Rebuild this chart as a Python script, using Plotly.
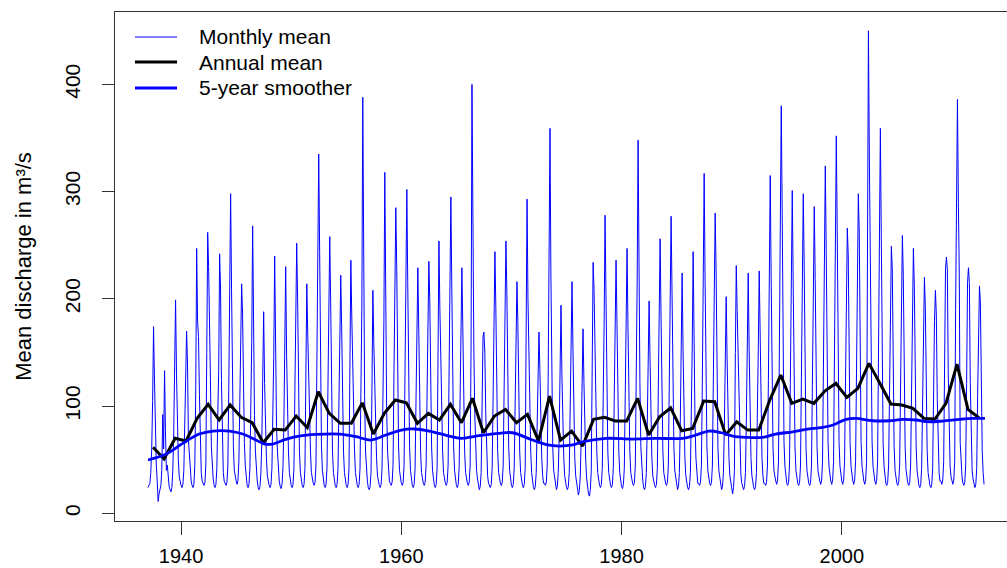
import plotly.graph_objects as go

# ---------------- data ----------------
start_year = 1937
monthly_discharge = [
    24, 26, 28, 38, 60, 105, 174, 125, 72, 45, 30, 11,      # 1937
    18, 22, 26, 40, 92, 60, 133, 76, 40, 45, 30, 25,        # 1938
    22, 20, 24, 40, 75, 143, 199, 130, 74, 50, 34, 28,      # 1939
    26, 24, 27, 40, 70, 125, 170, 140, 69, 52, 36, 30,      # 1940
    26, 24, 27, 45, 115, 247, 179, 165, 111, 55, 38, 30,    # 1941
    28, 26, 29, 45, 150, 262, 230, 190, 125, 62, 40, 32,    # 1942
    26, 24, 27, 42, 90, 133, 242, 210, 124, 58, 38, 30,     # 1943
    28, 26, 29, 45, 117, 209, 298, 209, 117, 62, 40, 32,    # 1944
    30, 27, 31, 48, 104, 186, 214, 186, 104, 66, 44, 34,    # 1945
    26, 24, 27, 42, 90, 160, 268, 160, 91, 58, 38, 30,      # 1946
    24, 22, 25, 38, 68, 121, 188, 121, 68, 52, 35, 28,      # 1947
    26, 24, 27, 42, 82, 146, 240, 146, 81, 58, 38, 30,      # 1948
    25, 23, 27, 42, 82, 146, 230, 146, 82, 58, 38, 31,      # 1949
    26, 24, 27, 42, 100, 177, 252, 200, 114, 58, 38, 30,    # 1950
    26, 24, 27, 42, 120, 214, 168, 131, 80, 58, 38, 30,     # 1951
    28, 26, 29, 45, 137, 244, 335, 244, 138, 62, 40, 32,    # 1952
    26, 24, 27, 42, 110, 197, 258, 197, 111, 58, 38, 30,    # 1953
    26, 24, 27, 42, 97, 173, 222, 173, 97, 58, 38, 30,      # 1954
    26, 24, 27, 42, 131, 236, 184, 132, 79, 58, 38, 30,     # 1955
    26, 24, 27, 42, 108, 193, 388, 193, 109, 58, 38, 30,    # 1956
    24, 22, 25, 38, 114, 208, 159, 114, 68, 52, 35, 28,     # 1957
    26, 24, 27, 42, 100, 178, 318, 178, 99, 58, 38, 30,     # 1958
    28, 26, 29, 45, 130, 230, 285, 230, 130, 62, 40, 32,    # 1959
    28, 26, 29, 45, 121, 215, 302, 215, 121, 62, 40, 32,    # 1960
    26, 24, 27, 42, 96, 171, 229, 171, 95, 58, 38, 30,      # 1961
    28, 26, 29, 45, 112, 199, 235, 199, 111, 62, 40, 32,    # 1962
    26, 24, 27, 42, 136, 254, 191, 136, 82, 58, 38, 30,     # 1963
    28, 26, 29, 45, 119, 212, 295, 212, 119, 62, 40, 32,    # 1964
    26, 24, 27, 42, 97, 173, 229, 173, 97, 58, 38, 30,      # 1965
    28, 26, 29, 45, 156, 400, 218, 156, 94, 62, 40, 32,     # 1966
    24, 22, 25, 38, 100, 165, 169, 150, 93, 52, 35, 28,     # 1967
    26, 24, 27, 42, 108, 192, 244, 192, 107, 58, 38, 30,    # 1968
    28, 26, 29, 45, 116, 207, 254, 207, 117, 62, 40, 32,    # 1969
    26, 24, 27, 42, 100, 177, 216, 177, 99, 58, 38, 30,     # 1970
    26, 24, 27, 42, 142, 293, 200, 143, 85, 58, 38, 30,     # 1971
    24, 22, 25, 38, 75, 133, 169, 134, 75, 52, 35, 28,      # 1972
    28, 26, 29, 45, 124, 221, 359, 221, 125, 62, 40, 32,    # 1973
    24, 22, 25, 38, 72, 129, 194, 129, 72, 52, 35, 28,      # 1974
    24, 22, 25, 38, 86, 154, 216, 154, 86, 52, 35, 28,      # 1975
    20, 17, 21, 35, 69, 123, 172, 122, 69, 48, 32, 24,      # 1976
    18, 16, 22, 40, 149, 234, 208, 149, 89, 58, 38, 30,     # 1977
    26, 24, 27, 42, 99, 176, 278, 177, 99, 58, 38, 30,      # 1978
    26, 24, 27, 42, 99, 176, 236, 177, 99, 58, 38, 30,      # 1979
    25, 23, 27, 42, 97, 173, 247, 173, 97, 58, 38, 32,      # 1980
    28, 26, 29, 45, 122, 216, 348, 216, 122, 62, 40, 32,    # 1981
    24, 22, 25, 38, 82, 145, 198, 145, 82, 52, 35, 28,      # 1982
    26, 24, 27, 42, 104, 185, 256, 185, 105, 58, 38, 30,    # 1983
    28, 26, 29, 45, 116, 205, 277, 205, 116, 62, 40, 32,    # 1984
    24, 22, 25, 38, 86, 152, 224, 152, 86, 52, 35, 28,      # 1985
    24, 22, 25, 38, 87, 154, 244, 154, 87, 52, 35, 28,      # 1986
    28, 26, 29, 45, 122, 216, 317, 217, 122, 62, 40, 32,    # 1987
    28, 26, 29, 45, 127, 226, 280, 226, 127, 62, 40, 32,    # 1988
    24, 22, 25, 38, 81, 144, 202, 144, 81, 52, 35, 28,      # 1989
    20, 18, 24, 40, 150, 231, 188, 145, 90, 55, 36, 28,     # 1990
    24, 22, 25, 38, 87, 155, 224, 154, 87, 52, 35, 28,      # 1991
    24, 22, 25, 38, 87, 154, 226, 153, 87, 52, 35, 28,      # 1992
    28, 26, 29, 45, 124, 221, 315, 221, 124, 62, 40, 32,    # 1993
    30, 27, 31, 48, 160, 284, 380, 284, 159, 66, 44, 34,    # 1994
    28, 26, 29, 45, 120, 213, 301, 214, 120, 62, 40, 32,    # 1995
    28, 26, 29, 45, 129, 230, 298, 230, 129, 62, 40, 32,    # 1996
    28, 26, 29, 45, 123, 218, 286, 218, 123, 62, 40, 32,    # 1997
    30, 27, 31, 48, 138, 244, 324, 244, 138, 66, 44, 34,    # 1998
    30, 27, 31, 48, 148, 263, 352, 263, 148, 66, 44, 34,    # 1999
    30, 27, 31, 48, 135, 240, 266, 240, 136, 66, 44, 34,    # 2000
    30, 27, 31, 48, 148, 262, 298, 262, 148, 66, 44, 34,    # 2001
    30, 27, 31, 48, 237, 450, 332, 237, 142, 66, 44, 34,    # 2002
    30, 27, 31, 48, 147, 261, 359, 260, 147, 66, 44, 34,    # 2003
    28, 26, 29, 45, 128, 228, 249, 228, 128, 62, 40, 32,    # 2004
    28, 26, 29, 45, 124, 221, 259, 221, 124, 62, 40, 32,    # 2005
    28, 26, 29, 45, 120, 213, 247, 213, 120, 62, 40, 32,    # 2006
    26, 24, 27, 42, 107, 191, 220, 192, 107, 58, 38, 30,    # 2007
    26, 24, 27, 42, 130, 180, 208, 185, 107, 58, 38, 30,    # 2008
    30, 27, 31, 48, 128, 228, 239, 227, 128, 66, 44, 34,    # 2009
    30, 27, 31, 48, 190, 300, 386, 290, 223, 66, 44, 34,    # 2010
    28, 26, 29, 45, 121, 215, 229, 215, 121, 62, 40, 32,    # 2011
    26, 24, 27, 42, 110, 196, 212, 196, 110, 58, 38, 27,    # 2012
]

annual_years = list(range(1937, 2013))
annual_mean = [
    61.5, 50.6, 69.9, 67.4, 88.5, 101.6, 87.0, 101.0, 89.5, 84.5,      # 1937-1946
    65.8, 78.3, 77.6, 90.7, 79.8, 113.3, 93.2, 83.9, 83.9, 103.0,      # 1947-1956
    73.9, 93.2, 105.6, 103.0, 83.9, 93.2, 87.0, 101.6, 84.5, 107.2,    # 1957-1966
    75.1, 90.7, 96.9, 84.5, 92.3, 67.5, 109.3, 68.3, 76.7, 62.7,       # 1967-1976
    87.6, 89.5, 86.0, 86.0, 107.2, 73.0, 90.0, 98.4, 77.0, 79.2,       # 1977-1986
    104.7, 104.0, 73.0, 85.4, 77.6, 77.6, 105.6, 128.9, 102.5, 106.5,  # 1987-1996
    102.5, 114.0, 121.2, 108.1, 116.5, 139.8, 121.2, 101.9, 100.9, 97.9,  # 1997-2006
    88.5, 87.9, 102.5, 139.1, 96.9, 89.1,                              # 2007-2012
]

smoother_time = [
    1937.0, 1938.6, 1940.15, 1941.65, 1942.9, 1944.4, 1945.6, 1946.8, 1947.6, 1948.3,
    1949.5, 1950.7, 1952.25, 1954.4, 1955.9, 1957.25, 1958.6, 1960.0, 1961.2, 1962.85,
    1964.35, 1965.4, 1966.8, 1968.9, 1970.1, 1971.9, 1973.3, 1974.35, 1975.55, 1976.5,
    1978.6, 1981.0, 1983.1, 1985.55, 1986.75, 1987.95, 1989.05, 1990.1, 1991.3, 1992.8,
    1994.0, 1995.55, 1996.75, 1998.25, 1999.2, 2000.4, 2001.3, 2002.8, 2004.3, 2005.55,
    2006.75, 2007.8, 2009.15, 2010.7, 2011.9, 2013.0,
]
smoother_value = [
    49.7, 55.0, 65.2, 73.9, 76.7, 76.7, 73.9, 68.3, 64.6, 64.6,
    69.0, 72.0, 73.6, 73.9, 71.4, 68.3, 73.0, 77.6, 78.6, 76.0,
    72.0, 69.9, 72.0, 74.6, 75.1, 68.3, 63.7, 62.7, 63.7, 66.7,
    69.9, 69.2, 69.9, 69.9, 73.0, 76.7, 75.1, 72.0, 70.8, 70.8,
    73.9, 76.0, 78.3, 80.1, 82.3, 87.6, 88.5, 86.3, 86.3, 87.6,
    87.0, 85.4, 86.0, 87.6, 88.5, 88.5,
]

x_ticks = [1940, 1960, 1980, 2000]
y_ticks = [0, 100, 200, 300, 400]
y_title = "Mean discharge in m³/s"
legend_names = ["Monthly mean", "Annual mean", "5-year smoother"]

# ---------------- figure ----------------
monthly_time = [start_year + i / 12 for i in range(len(monthly_discharge))]
annual_time = [y + 5.5 / 12 for y in annual_years]

FONT = "Liberation Sans, Arial, sans-serif"
L, T, W, H = 115, 12, 892, 509   # plot area in pixels


def px(x):
    return (x - L) / W


def py(y):
    return 1 - (y - T) / H


styles = [
    dict(color="#0000ff", width=1),
    dict(color="#000000", width=3),
    dict(color="#0000ff", width=2.8),
]

fig = go.Figure()
fig.add_trace(go.Scatter(
    x=monthly_time, y=monthly_discharge, mode="lines", name=legend_names[0],
    line=styles[0], showlegend=False,
))
fig.add_trace(go.Scatter(
    x=annual_time, y=annual_mean, mode="lines", name=legend_names[1],
    line=styles[1], showlegend=False,
))
fig.add_trace(go.Scatter(
    x=smoother_time, y=smoother_value, mode="lines", name=legend_names[2],
    line=dict(**styles[2], shape="spline", smoothing=1.0), showlegend=False,
))

# legend drawn in the R style (long line samples, tight rows)
row_y = [37, 62, 88]
for name, st, ry in zip(legend_names, styles, row_y):
    fig.add_shape(type="line", xref="paper", yref="paper",
                  x0=px(135), x1=px(177), y0=py(ry), y1=py(ry),
                  line=dict(color=st["color"], width=st["width"]))
    fig.add_annotation(xref="paper", yref="paper", x=px(197), y=py(ry),
                       xanchor="left", yanchor="middle", showarrow=False,
                       text=name, font=dict(family=FONT, size=21, color="black"))

fig.update_layout(
    width=1007, height=568,
    margin=dict(l=L, r=0, t=T, b=568 - T - H, autoexpand=False),
    paper_bgcolor="white", plot_bgcolor="white",
    font=dict(family=FONT, size=21, color="black"),
    showlegend=False,
    xaxis=dict(
        range=[1934.0, 2015.0], tickvals=x_ticks, ticktext=[str(v) for v in x_ticks],
        showgrid=False, zeroline=False, automargin=False,
        showline=True, linecolor="#333333", linewidth=1.3, mirror=True,
        ticks="outside", ticklen=13, tickwidth=1.3, tickcolor="#333333",
        ticklabelstandoff=4,
        tickfont=dict(family=FONT, size=20, color="black"),
    ),
    yaxis=dict(
        range=[-7.2, 467.5], tickvals=y_ticks, ticktext=[str(v) for v in y_ticks],
        showgrid=False, zeroline=False, automargin=False,
        showline=True, linecolor="#333333", linewidth=1.3, mirror=False,
        ticks="outside", ticklen=12, tickwidth=1.3, tickcolor="#333333",
        tickangle=-90, ticklabelstandoff=13,
        tickfont=dict(family=FONT, size=21, color="black"),
        title=dict(text=y_title, font=dict(family=FONT, size=22, color="black"), standoff=23),
    ),
)

fig.write_html("out.html")
